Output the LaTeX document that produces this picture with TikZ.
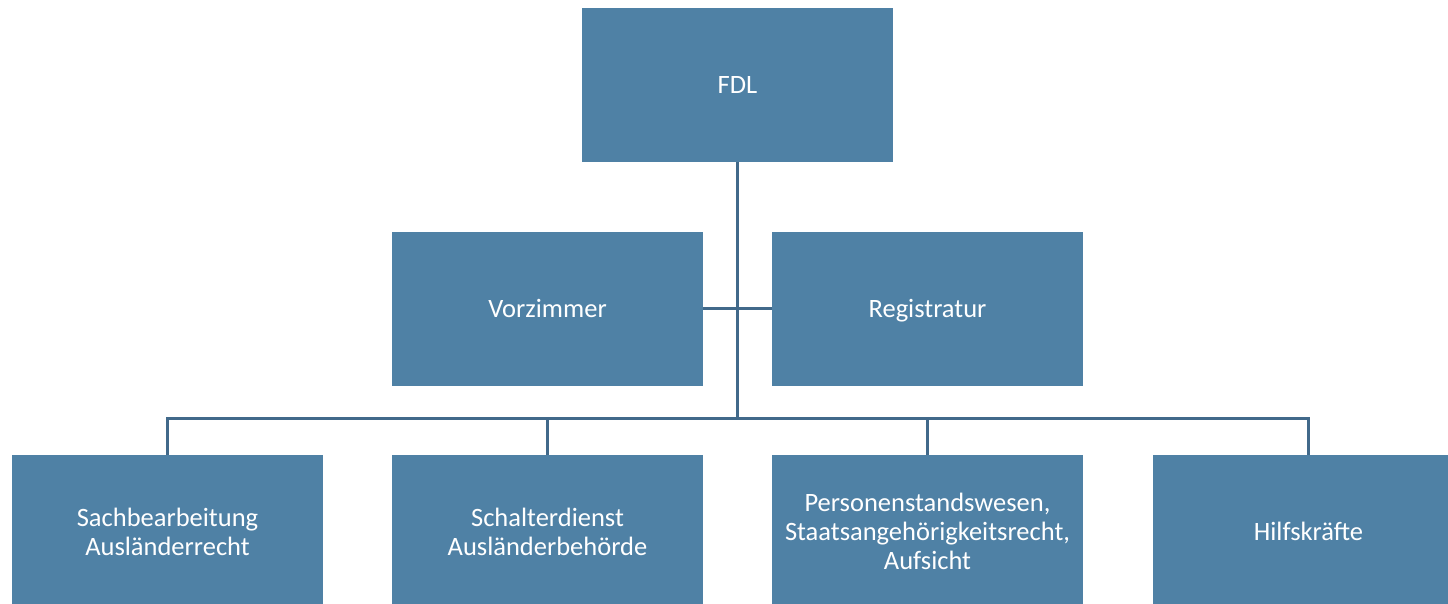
\documentclass[tikz,border=0pt]{standalone}
\usepackage{fontspec}
\setmainfont{Carlito}
\usepackage{tikz}
\definecolor{boxblue}{HTML}{4F81A5}
\definecolor{lineblue}{HTML}{41698A}
\newcommand{\unitstrut}{\rule[-8.7pt]{0pt}{35pt}}
\tikzset{
  unit/.style={draw=none,fill=boxblue,text=white,minimum width=311pt,minimum height=154pt,
    inner sep=0pt,align=center,font=\fontsize{26.5}{29}\selectfont,
    execute at begin node=\unitstrut,execute at end node=\strut},
  link/.style={draw=lineblue,line width=3pt}
}
\begin{document}
\begin{tikzpicture}[x=1pt,y=-1pt]
    \useasboundingbox (0,0) rectangle (1448,604);
    \node[unit] (fdl) at (737.5,85) {FDL};
    \node[unit] (vorz) at (547.5,308.5) {Vorzimmer};
    \node[unit] (reg) at (927.5,308.5) {Registratur};
    \node[unit] (sach) at (167.5,532) {\unitstrut Sachbearbeitung\\Ausländerrecht};
    \node[unit] (schalt) at (547.5,532) {\unitstrut Schalterdienst\\Ausländerbehörde};
    \node[unit] (pers) at (927.5,532) {\unitstrut Personenstandswesen,\\Staatsangehörigkeitsrecht,\\Aufsicht};
    \node[unit] (hilf) at (1308.5,532) {Hilfskräfte};
    \coordinate (bus) at (737.5,418);
    \draw [link] (fdl.south) -- (bus);
    \draw [link] (vorz.east) -- (reg.west);
    \draw [link] (sach.north) |- (bus) -| (hilf.north);
    \foreach \n in {schalt,pers}
    {   \draw [link] (\n.north) -- (\n.north |- bus);
    }
  \end{tikzpicture}
\end{document}
